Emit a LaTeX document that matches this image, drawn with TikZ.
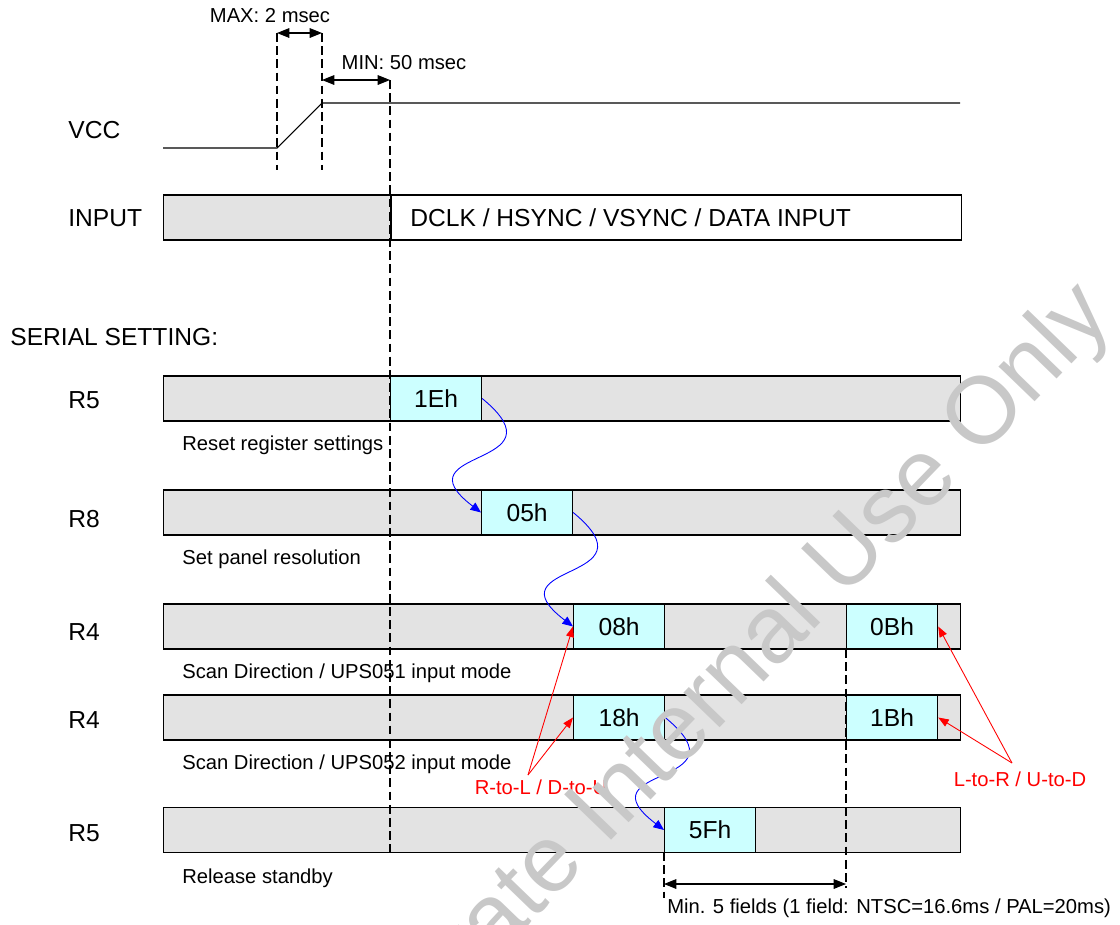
\documentclass[tikz,border=0pt]{standalone}
\usepackage{fontspec}
\setmainfont{Liberation Sans}
\usetikzlibrary{positioning}
\usetikzlibrary{arrows.meta}
\definecolor{barfill}{HTML}{E3E3E3}
\definecolor{regfill}{HTML}{CCFFFF}
\definecolor{wmark}{HTML}{C8C8C8}

\begin{document}
\begin{tikzpicture}[x=0.02cm, y=-0.02cm,
	bar/.style={draw, fill=barfill, line width=.7pt, minimum height=.9cm, minimum width=15.94cm, inner sep=0pt, anchor=west},
	reg/.style={draw, fill=regfill, line width=.7pt, minimum height=.9cm, minimum width=1.82cm, inner sep=0pt, anchor=west, font=\fontsize{14}{16}\selectfont},
	big/.style={anchor=west, font=\fontsize{14}{16}\selectfont, inner sep=0pt},
	small/.style={anchor=west, font=\fontsize{11.5}{13}\selectfont, inner sep=0pt},
	note/.style={font=\fontsize{11.5}{13}\selectfont, text=red, inner sep=0pt},
	guide/.style={dash pattern=on 5pt off 2.5pt, line width=.7pt},
	dim/.style={{Triangle[length=7pt,width=5.5pt]}-{Triangle[length=7pt,width=5.5pt]}, line width=.6pt},
	flow/.style={-{Triangle[length=6pt,width=5pt]}, blue, line width=.5pt},
	hint/.style={-{Triangle[length=6pt,width=4.5pt]}, red, line width=.5pt}]
	\useasboundingbox (0,0) rectangle (1120,924);

	\node[big] (vcc) at (68,130) {VCC};
	\node[big] (inp) at (68,218) {INPUT};
	\node[big] (ser) at (10,337) {SERIAL SETTING:};

	\coordinate (lo0) at (163,148);
	\coordinate (lo1) at (277,148);
	\coordinate (hi0) at (322,103);
	\coordinate (hi1) at (960,103);
	\draw[line width=.6pt] (lo0) -- (lo1) -- (hi0) -- (hi1);

	\node[bar, minimum width=4.54cm] (ingray) at (163,217.5) {};
	\node[bar, fill=white, minimum width=11.4cm, right=0pt of ingray] (indata) {};
	\node[big] (intext) at (410,218) {DCLK / HSYNC / VSYNC / DATA INPUT};

	\node[big] (lr5a) at (68,400) {R5};
	\node[bar] (r5a) at (163,398.5) {};
	\node[reg] (z1e) at (390,398.5) {1Eh};
	\node[small] (dr5a) at (182,445) {Reset register settings};

	\node[big] (lr8) at (68,519) {R8};
	\node[bar] (r8) at (163,512.5) {};
	\node[reg] (z05) at (481,512.5) {05h};
	\node[small] (dr8) at (182,559) {Set panel resolution};

	\node[big] (lr4a) at (68,632) {R4};
	\node[bar] (r4a) at (163,626.5) {};
	\node[reg] (z08) at (573,626.5) {08h};
	\node[reg] (z0b) at (846,626.5) {0Bh};
	\node[small] (dr4a) at (182,673) {Scan Direction / UPS051 input mode};

	\node[big] (lr4b) at (68,720) {R4};
	\node[bar] (r4b) at (163,717.5) {};
	\node[reg] (z18) at (573,717.5) {18h};
	\node[reg] (z1b) at (846,717.5) {1Bh};
	\node[small] (dr4b) at (182,764) {Scan Direction / UPS052 input mode};

	\node[big] (lr5b) at (68,833) {R5};
	\node[bar] (r5b) at (163,830) {};
	\node[reg] (z5f) at (664,830) {5Fh};
	\node[small] (dr5b) at (182,878) {Release standby};

	\draw[guide] (277,33) -- (277,170);
	\draw[guide] (322,33) -- (322,170);
	\draw[guide] (390,80) -- (390,852);
	\draw[guide] (846,649) -- (846,888);
	\draw[guide] (664,852) -- (664,898);

	\node[small, anchor=center] (maxt) at (270,16) {MAX: 2 msec};
	\draw[dim] (277,33) -- (322,33);
	\node[small, anchor=center] (mint) at (404,63) {MIN: 50 msec};
	\draw[dim] (322,80) -- (390,80);
	\draw[dim] (664,884) -- (846,884);
	\node[small] (fld) at (667,908) {Min. 5 fields (1 field: NTSC=16.6ms / PAL=20ms)};

	\draw[flow] (z1e.east) .. controls +(85,70) and +(-85,-65) .. (z05.west);
	\draw[flow] (z05.east) .. controls +(85,70) and +(-85,-65) .. (z08.west);
	\draw[flow] (z18.east) .. controls +(85,70) and +(-85,-65) .. (z5f.west);

	\coordinate (rlsrc) at (528,775);
	\node[note] (rl) at (541,787) {R-to-L / D-to-U};
	\path (rlsrc) edge[hint] (z08.west) edge[hint] (z18.west);
	\coordinate (lrsrc) at (1012,763);
	\node[note] (lr) at (1020,779) {L-to-R / U-to-D};
	\path (lrsrc) edge[hint] (z0b.east) edge[hint] (z1b.east);

	\node[text=wmark, rotate=46, font=\fontsize{54}{56}\selectfont, inner sep=0pt] (wm) at (731,681) {Private Internal Use Only};
\end{tikzpicture}
\end{document}
